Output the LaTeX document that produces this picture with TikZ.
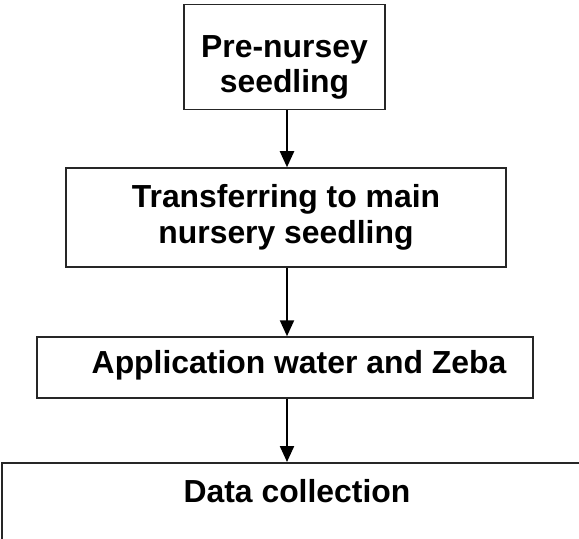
\documentclass[tikz,border=0pt]{standalone}
\usepackage{fontspec}
\setmainfont{Liberation Sans}
\usetikzlibrary{arrows.meta}
\begin{document}
\begin{tikzpicture}[x=1bp,y=-1bp,
  box/.style={draw=black!85, line width=1.5bp, fill=white, inner sep=0pt, align=center,
    font=\bfseries\fontsize{32}{36.5}\selectfont},
  lbl/.style={inner sep=0pt, align=center, font=\bfseries\fontsize{32}{36.5}\selectfont},
  arr/.style={-{Triangle[length=16bp,width=14bp]}, line width=2.2bp, draw=black}]
\useasboundingbox (0,0) rectangle (579,539);
\node[box, minimum width=201bp, minimum height=105bp] (b1) at (284.5,57) {};
\node[lbl, anchor=base] (t1a) at (b1.center |- 0,58) {Pre-nursey};
\node[lbl, anchor=base] (t1b) at (b1.center |- 0,93) {seedling};
\node[box, minimum width=440bp, minimum height=99bp] (b2) at (286,217.5) {Transferring to main\\nursery seedling};
\node[box, minimum width=496bp, minimum height=61bp] (b3) at (285,367.5) {};
\node[lbl] (t3) at (299,365) {Application water and Zeba};
\node[box, minimum width=600bp, minimum height=120bp, anchor=north west] (b4) at (1,462) {};
\node[lbl, anchor=base] (t4) at (297,502) {Data collection};
\coordinate (a1) at (287,0);
\draw[arr] (b1.south -| a1) -- (b2.north -| a1);
\draw[arr] (b2.south -| a1) -- (b3.north -| a1);
\draw[arr] (b3.south -| a1) -- (b4.north -| a1);
\end{tikzpicture}
\end{document}
